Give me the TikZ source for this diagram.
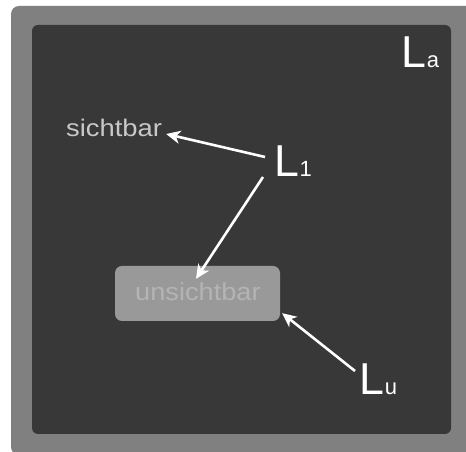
\documentclass[tikz,border=0pt]{standalone}
\usepackage{fontspec}
\usepackage{graphicx}
\setmainfont{Liberation Sans}
\usetikzlibrary{arrows.meta,calc}

\definecolor{frame}{HTML}{808080}
\definecolor{panel}{HTML}{383838}
\definecolor{boxfill}{HTML}{999999}
\definecolor{boxtext}{HTML}{B4B4B4}
\definecolor{labeltext}{HTML}{C8C8C8}

\tikzset{
  bigL/.style={text=white, inner sep=0pt, anchor=base west},
  word/.style={inner sep=0pt, anchor=base west},
  arr/.style={draw=white, line width=2.6pt,
    -{Stealth[length=14pt, width=13pt, inset=4pt]}},
}
\newcommand{\Lsub}[1]{{\fontsize{44.7}{48}\selectfont L}{\fontsize{22}{24}\selectfont #1}}

\begin{document}
\begin{tikzpicture}[x=1pt, y=1pt]
  \useasboundingbox (0,0) rectangle (466,452);
  % outer frame and dark panel
  \fill[frame, rounded corners=8pt] (11,-3) rectangle (478,446);
  \fill[panel, rounded corners=6pt] (32,18) rectangle (451,427);

  % hidden region
  \node[fill=boxfill, rounded corners=7pt, minimum width=165pt,
        minimum height=55pt, inner sep=0pt] (box) at (197.5,158.5) {};
  \node[word, text=boxtext] (unsichtbar) at (135,151)
    {\scalebox{1.11}[1]{\fontsize{24.5}{28}\selectfont unsichtbar}};

  % visible label
  \node[word, text=labeltext] (sichtbar) at (66,315)
    {\scalebox{1.14}[1]{\fontsize{24}{28}\selectfont sichtbar}};

  % light labels
  \node[bigL] (La) at (401.7,384) {\Lsub{a}};
  \node[bigL] (L1) at (274.5,275) {\Lsub{1}};
  \node[bigL] (Lu) at (359.7,57) {\Lsub{u}};

  % rays
  \draw[arr] ($(L1.base west)+(-9.5,20)$) -- ($(sichtbar.base east)+(4,3)$);
  \draw[arr] ($(L1.base west)+(-11.5,0)$) -- ($(box.north)+(-1.5,-13)$);
  \draw[arr] ($(Lu.base west)+(-4.7,24)$) -- ($(box.south east)+(2,8)$);
\end{tikzpicture}
\end{document}
